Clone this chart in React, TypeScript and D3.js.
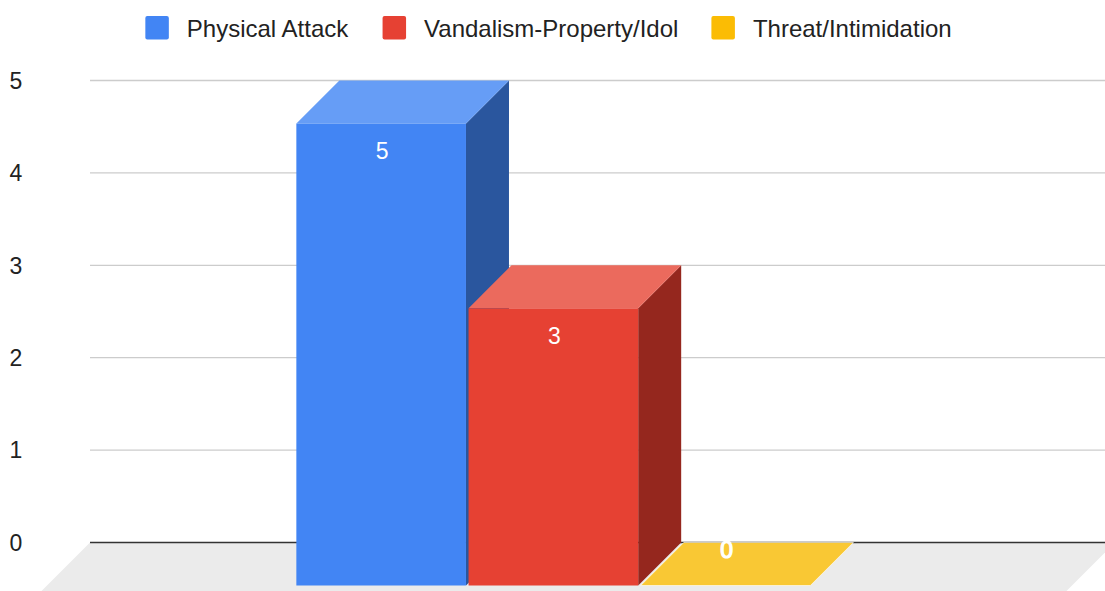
import React from "react";
import * as d3 from "d3";

const categories = [""];
const seriesNames = ["Physical Attack", "Vandalism-Property/Idol", "Threat/Intimidation"];
const seriesValues = [5, 3, 0];
const yTicks = [0, 1, 2, 3, 4, 5];

const frontColors = ["#4285f4", "#e64133", "#fbbc04"];
const topColors = ["#669df6", "#eb6a5d", "#f9c834"];
const sideColors = ["#2a569e", "#95271e", "#b08200"];

const W = 1105;
const H = 591;
const FONT = "'Liberation Sans', Arial, Helvetica, sans-serif";

const plotLeft = 90;
const plotRight = 1115;
const barDepth = 43;
const floorDepth = 60;

function measure(text: string, size: number): number {
  try {
    const c = document.createElement("canvas");
    const ctx = c.getContext("2d");
    if (ctx) {
      ctx.font = `${size}px ${FONT}`;
      return ctx.measureText(text).width;
    }
  } catch (e) {}
  return text.length * size * 0.5;
}

export default function App() {
  const y = d3.scaleLinear().domain([0, 5]).range([542.5, 80.5]);
  const xGroup = d3
    .scaleBand<string>()
    .domain(categories)
    .range([plotLeft, plotRight])
    .paddingInner(0)
    .paddingOuter(0.497)
    .align(0.488);
  const xSeries = d3
    .scaleBand<string>()
    .domain(seriesNames)
    .range([0, xGroup.bandwidth()])
    .paddingInner(0.015)
    .paddingOuter(0);

  const y0 = y(0);

  // legend layout
  const legendFont = 24;
  const sq = 23.5;
  const sqGap = 18;
  const itemGap = 33;
  const widths = seriesNames.map((s) => measure(s, legendFont));
  const total = widths.reduce((a, w) => a + sq + sqGap + w, 0) + itemGap * (seriesNames.length - 1);
  let lx = 548.5 - total / 2;
  const legendItems = seriesNames.map((s, i) => {
    const item = { name: s, x: lx, color: frontColors[i] };
    lx += sq + sqGap + widths[i] + itemGap;
    return item;
  });

  const line = d3.line<[number, number]>();

  return (
    <svg
      width={W}
      height={H}
      style={{ position: "absolute", left: 0, top: 0, background: "#fff" }}
      fontFamily={FONT}
    >
      {/* legend */}
      {legendItems.map((it) => (
        <g key={it.name}>
          <rect x={it.x} y={16} width={sq} height={sq} rx={2} fill={it.color} />
          <text x={it.x + sq + sqGap} y={37.3} fontSize={legendFont} fill="#222">
            {it.name}
          </text>
        </g>
      ))}

      {/* floor */}
      <path
        d={
          line([
            [plotLeft, y0],
            [plotRight, y0],
            [plotRight - floorDepth, y0 + floorDepth],
            [plotLeft - floorDepth, y0 + floorDepth],
          ]) + "Z"
        }
        fill="#ebebeb"
      />

      {/* gridlines */}
      {yTicks
        .filter((t) => t !== 0)
        .map((t) => (
          <line
            key={t}
            x1={plotLeft}
            x2={plotRight}
            y1={y(t)}
            y2={y(t)}
            stroke="#cccccc"
            strokeWidth={1.3}
          />
        ))}
      <line x1={plotLeft} x2={plotRight} y1={y0} y2={y0} stroke="#333" strokeWidth={1.6} />

      {/* tick labels */}
      {yTicks.map((t) => (
        <text key={t} x={9.5} y={y(t) + 8.2} fontSize={23} fill="#222">
          {String(t)}
        </text>
      ))}

      {/* bars */}
      {categories.map((c) =>
        seriesNames.map((s, i) => {
          const v = seriesValues[i];
          const xb = (xGroup(c) ?? 0) + (xSeries(s) ?? 0);
          const w = xSeries.bandwidth();
          const yt = y(v);
          const d = barDepth;
          const frontTop = yt + d;
          const frontBottom = y0 + d;
          const top = line([
            [xb - d, yt + d],
            [xb, yt],
            [xb + w, yt],
            [xb + w - d, yt + d],
          ]) + "Z";
          const side = line([
            [xb + w - d, yt + d],
            [xb + w, yt],
            [xb + w, y0],
            [xb + w - d, y0 + d],
          ]) + "Z";
          let labelY = frontTop + 35.5;
          if (labelY > frontBottom - 5) labelY = frontTop - 28;
          const cx = xb - d + w / 2 + 1;
          return (
            <g key={s}>
              {v > 0 && <path d={side} fill={sideColors[i]} />}
              <path d={top} fill={topColors[i]} stroke={v === 0 ? "#fff" : "none"} strokeWidth={v === 0 ? 0.6 : 0} />
              {v > 0 && (
                <rect x={xb - d} y={frontTop} width={w} height={frontBottom - frontTop} fill={frontColors[i]} />
              )}
              <text
                x={cx}
                y={labelY}
                textAnchor="middle"
                fontSize={23}
                fill="#fff"
                stroke={v === 0 ? "#fff" : "none"}
                strokeWidth={v === 0 ? 1.2 : 0}
              >
                {String(v)}
              </text>
            </g>
          );
        })
      )}
    </svg>
  );
}
